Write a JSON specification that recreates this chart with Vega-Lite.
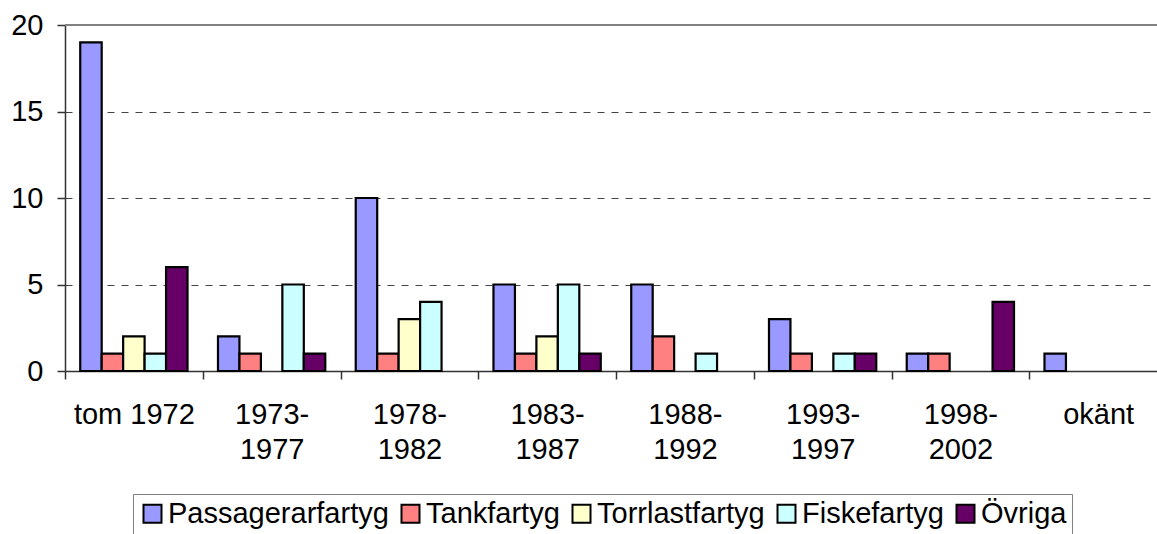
{
  "$schema": "https://vega.github.io/schema/vega-lite/v6.json",
  "width": 1092,
  "height": 346,
  "autosize": {"type": "none"},
  "padding": {"left": 65, "top": 25, "right": 0, "bottom": 163},
  "background": "white",
  "config": {"view": {"stroke": null}, "font": "Liberation Sans"},
  "data": {
    "values": [
      {"period": "tom 1972", "type": "Passagerarfartyg", "count": 19},
      {"period": "tom 1972", "type": "Tankfartyg", "count": 1},
      {"period": "tom 1972", "type": "Torrlastfartyg", "count": 2},
      {"period": "tom 1972", "type": "Fiskefartyg", "count": 1},
      {"period": "tom 1972", "type": "Övriga", "count": 6},
      {"period": "1973-1977", "type": "Passagerarfartyg", "count": 2},
      {"period": "1973-1977", "type": "Tankfartyg", "count": 1},
      {"period": "1973-1977", "type": "Torrlastfartyg", "count": 0},
      {"period": "1973-1977", "type": "Fiskefartyg", "count": 5},
      {"period": "1973-1977", "type": "Övriga", "count": 1},
      {"period": "1978-1982", "type": "Passagerarfartyg", "count": 10},
      {"period": "1978-1982", "type": "Tankfartyg", "count": 1},
      {"period": "1978-1982", "type": "Torrlastfartyg", "count": 3},
      {"period": "1978-1982", "type": "Fiskefartyg", "count": 4},
      {"period": "1978-1982", "type": "Övriga", "count": 0},
      {"period": "1983-1987", "type": "Passagerarfartyg", "count": 5},
      {"period": "1983-1987", "type": "Tankfartyg", "count": 1},
      {"period": "1983-1987", "type": "Torrlastfartyg", "count": 2},
      {"period": "1983-1987", "type": "Fiskefartyg", "count": 5},
      {"period": "1983-1987", "type": "Övriga", "count": 1},
      {"period": "1988-1992", "type": "Passagerarfartyg", "count": 5},
      {"period": "1988-1992", "type": "Tankfartyg", "count": 2},
      {"period": "1988-1992", "type": "Torrlastfartyg", "count": 0},
      {"period": "1988-1992", "type": "Fiskefartyg", "count": 1},
      {"period": "1988-1992", "type": "Övriga", "count": 0},
      {"period": "1993-1997", "type": "Passagerarfartyg", "count": 3},
      {"period": "1993-1997", "type": "Tankfartyg", "count": 1},
      {"period": "1993-1997", "type": "Torrlastfartyg", "count": 0},
      {"period": "1993-1997", "type": "Fiskefartyg", "count": 1},
      {"period": "1993-1997", "type": "Övriga", "count": 1},
      {"period": "1998-2002", "type": "Passagerarfartyg", "count": 1},
      {"period": "1998-2002", "type": "Tankfartyg", "count": 1},
      {"period": "1998-2002", "type": "Torrlastfartyg", "count": 0},
      {"period": "1998-2002", "type": "Fiskefartyg", "count": 0},
      {"period": "1998-2002", "type": "Övriga", "count": 4},
      {"period": "okänt", "type": "Passagerarfartyg", "count": 1},
      {"period": "okänt", "type": "Tankfartyg", "count": 0},
      {"period": "okänt", "type": "Torrlastfartyg", "count": 0},
      {"period": "okänt", "type": "Fiskefartyg", "count": 0},
      {"period": "okänt", "type": "Övriga", "count": 0}
    ]
  },
  "layer": [
    {
      "transform": [{"filter": "datum.count > 0"}],
      "mark": {"type": "bar", "stroke": "black", "strokeWidth": 2.2},
      "encoding": {
        "x": {
          "field": "period",
          "type": "nominal",
          "sort": ["tom 1972", "1973-1977", "1978-1982", "1983-1987", "1988-1992", "1993-1997", "1998-2002", "okänt"],
          "scale": {
            "domain": ["tom 1972", "1973-1977", "1978-1982", "1983-1987", "1988-1992", "1993-1997", "1998-2002", "okänt"],
            "range": [0, 1102],
            "paddingInner": 0,
            "paddingOuter": 0
          },
          "axis": {
            "title": null,
            "labelAngle": 0,
            "tickBand": "extent",
            "grid": false,
            "labelExpr": "indexof(datum.label, '-') > 0 ? [slice(datum.label, 0, 5), slice(datum.label, 5)] : datum.label",
            "labelFontSize": 29,
            "labelLineHeight": 35,
            "labelPadding": 21,
            "labelColor": "black",
            "tickSize": 8,
            "tickColor": "#333333",
            "tickWidth": 1.5,
            "domainColor": "#333333",
            "domainWidth": 1.5
          }
        },
        "xOffset": {
          "field": "type",
          "type": "nominal",
          "scale": {
            "domain": ["Passagerarfartyg", "Tankfartyg", "Torrlastfartyg", "Fiskefartyg", "Övriga"],
            "paddingInner": 0,
            "paddingOuter": 0.71
          }
        },
        "y": {
          "field": "count",
          "type": "quantitative",
          "scale": {"domain": [0, 20], "nice": false},
          "axis": {
            "title": null,
            "values": [0, 5, 10, 15, 20],
            "grid": true,
            "gridDash": [7, 7],
            "gridColor": "#444444",
            "gridWidth": 1,
            "labelFontSize": 29,
            "labelPadding": 14,
            "labelColor": "black",
            "tickSize": 8,
            "tickColor": "#333333",
            "tickWidth": 1.5,
            "domainColor": "#333333",
            "domainWidth": 1.5
          }
        },
        "color": {
          "field": "type",
          "type": "nominal",
          "scale": {
            "domain": ["Passagerarfartyg", "Tankfartyg", "Torrlastfartyg", "Fiskefartyg", "Övriga"],
            "range": ["#9999FF", "#FF8080", "#FFFFCC", "#CCFFFF", "#660066"]
          },
          "legend": {
            "title": null,
            "orient": "none",
            "direction": "horizontal",
            "legendX": 68,
            "legendY": 469,
            "padding": 5,
            "strokeColor": "#808080",
            "fillColor": "white",
            "symbolType": "square",
            "symbolSize": 324,
            "symbolStrokeColor": "black",
            "symbolStrokeWidth": 2,
            "symbolOpacity": 1,
            "labelFontSize": 29,
            "labelColor": "black",
            "labelLimit": 0,
            "labelOffset": 1,
            "columnPadding": 7
          }
        }
      }
    },
    {
      "mark": {"type": "rule", "color": "#808080", "strokeWidth": 2},
      "encoding": {"y": {"datum": 20, "type": "quantitative"}}
    }
  ]
}
